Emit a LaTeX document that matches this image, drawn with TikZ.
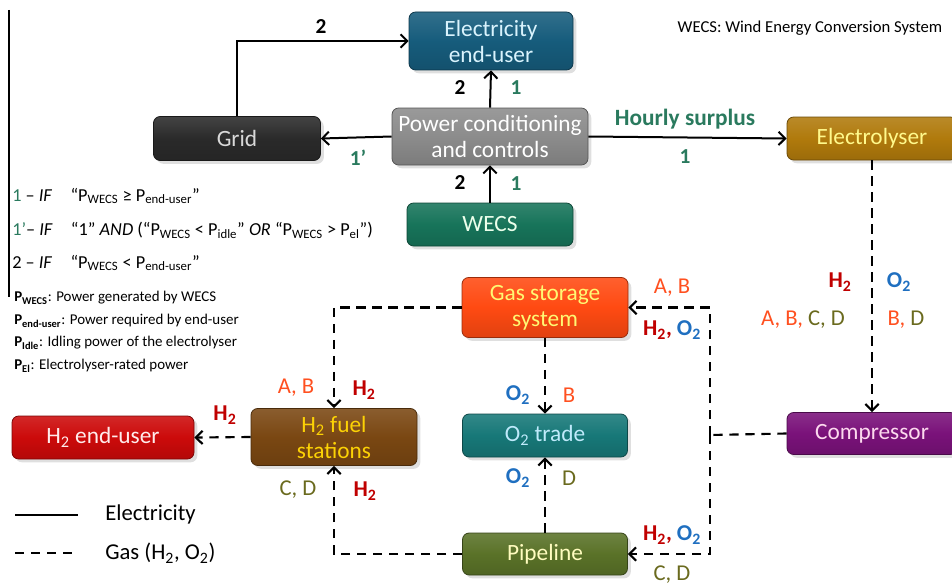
\documentclass[tikz,border=0pt]{standalone}
\usepackage{fontspec}
\setmainfont{Carlito}
\usepackage{tikz}
\usetikzlibrary{arrows.meta,shadows}

\definecolor{cEuser}{HTML}{165C7C}
\definecolor{cPcc}{HTML}{8C8C8C}
\definecolor{cGrid}{HTML}{2A2A2A}
\definecolor{cWecs}{HTML}{17745A}
\definecolor{cElectro}{HTML}{B07A0C}
\definecolor{cGas}{HTML}{FF4A12}
\definecolor{cFuel}{HTML}{7A4712}
\definecolor{cHuser}{HTML}{CC0A0A}
\definecolor{cOtrade}{HTML}{177878}
\definecolor{cComp}{HTML}{7A127A}
\definecolor{cPipe}{HTML}{5A7228}
\definecolor{cGreen}{HTML}{2A7A5E}
\definecolor{cRed}{HTML}{C00000}
\definecolor{cBlue}{HTML}{1F6FC0}
\definecolor{cOrange}{HTML}{FF5020}
\definecolor{cOlive}{HTML}{6A6A1E}

\newcommand{\hyd}{\textcolor{cRed}{\textbf{H\textsubscript{2}}}}
\newcommand{\oxy}{\textcolor{cBlue}{\textbf{O\textsubscript{2}}}}

\begin{document}
\begin{tikzpicture}[x=0.75pt,y=-0.75pt,
  box/.style={rounded corners=5pt, draw=#1!60!black, line width=0.6pt,
    top color=#1!88!white, bottom color=#1!88!black, middle color=#1,
    drop shadow={shadow xshift=2.5pt,shadow yshift=-2.5pt,opacity=0.25},
    align=center, inner sep=0pt, font=\fontsize{17.5}{19.5}\selectfont},
  sz/.style 2 args={minimum width=#1*0.75pt, minimum height=#2*0.75pt},
  elink/.style={draw, line width=1.5pt, -{Straight Barb[length=5pt,width=10pt]}},
  glink/.style={draw, line width=1.6pt, dash pattern=on 7pt off 5pt, -{Straight Barb[length=5pt,width=10pt]}},
  lab/.style={font=\fontsize{16}{18}\selectfont\bfseries},
  glab/.style={font=\fontsize{17}{19}\selectfont},
  txt/.style={anchor=west, inner sep=0pt, font=\fontsize{13.7}{15}\selectfont},
  dtxt/.style={anchor=west, inner sep=0pt, font=\fontsize{11.2}{13}\selectfont}]
\useasboundingbox (0,0) rectangle (952,585);

% boxes
\node[box=cEuser, text=cyan!15!white, sz={164}{58}] (euser) at (491,41) {Electricity\\end-user};
\node[box=cPcc, text=white, sz={196}{57}] (pcc) at (490,136.5) {Power conditioning\\and controls};
\node[box=cGrid, text=black!15, sz={167}{44}] (grid) at (237,138.5) {Grid};
\node[box=cWecs, text=white!92!green, sz={166}{43}] (wecs) at (490,224.5) {WECS};
\node[box=cElectro, text=yellow!45!white, sz={170}{43}] (electro) at (872,138.5) {Electrolyser};
\node[box=cGas, text=yellow!55!white, sz={166}{60}] (gas) at (545,307.5) {Gas storage\\system};
\node[box=cFuel, text=yellow!70!orange, sz={166}{57}] (fuel) at (334,437) {H\textsubscript{2} fuel\\stations};
\node[box=cHuser, text=pink!30!white, sz={182}{43}] (huser) at (103,437.5) {H\textsubscript{2} end-user};
\node[box=cOtrade, text=cyan!25!white, sz={165}{43}] (otrade) at (545,435.5) {O\textsubscript{2} trade};
\node[box=cComp, text=magenta!15!white, sz={170}{42}] (comp) at (872,433.5) {Compressor};
\node[box=cPipe, text=yellow!25!white, sz={165}{42}] (pipe) at (545,554) {Pipeline};

% electricity links
\draw[elink] (grid.north) |- (euser.west);
\draw[elink] (pcc.north) -- (euser.south);
\draw[elink] (pcc.west) -- (grid.east);
\draw[elink] (wecs.north) -- (pcc.south);
\draw[elink] (pcc.east) -- (electro.west);

% gas links
\coordinate (jn) at (710,435);
\draw[glink] (electro.south) -- (comp.north);
\draw[glink,-] (comp.west) -- (jn);
\draw[glink] (jn) |- (gas.east);
\draw[glink] (jn) |- (pipe.east);
\draw[glink] (gas.south) -- (otrade.north);
\draw[glink] (pipe.north) -- (otrade.south);
\draw[glink] (gas.west) -| (fuel.north);
\draw[glink] (pipe.west) -| (fuel.south);
\draw[glink] (fuel.west) -- (huser.east);

% link labels
\node[lab] (l2a) at (321,27) {2};
\node[lab] (l2b) at (460,88) {2};
\node[lab,text=cGreen] (l1a) at (516,88) {1};
\node[lab,text=cGreen] (l1p) at (358,158) {1’};
\node[lab] (l2c) at (460,183) {2};
\node[lab,text=cGreen] (l1b) at (516,184) {1};
\node[lab,text=cGreen,font=\fontsize{17.5}{19}\selectfont\bfseries] (lhs) at (685,119) {Hourly surplus};
\node[lab,text=cGreen] (l1c) at (685,157) {1};

\node[glab] (lh2e) at (840,282) {\hyd};
\node[glab] (lo2e) at (899,282) {\oxy};
\node[glab] (labcd) at (803,320) {\textcolor{cOrange}{A, B,} \textcolor{cOlive}{C, D}};
\node[glab] (lbd) at (906,320) {\textcolor{cOrange}{B,} \textcolor{cOlive}{D}};
\node[glab,text=cOrange] (lab1) at (672,288) {A, B};
\node[glab] (lho1) at (672,330) {\hyd\textcolor{cRed}{\textbf{,}} \oxy};
\node[glab] (lho2) at (672,535) {\hyd\textcolor{cRed}{\textbf{,}} \oxy};
\node[glab,text=cOlive] (lcd1) at (672,575) {C, D};
\node[glab] (lo2a) at (518,395) {\oxy};
\node[glab,text=cOrange] (lb) at (569,395) {B};
\node[glab] (lo2b) at (518,478) {\oxy};
\node[glab,text=cOlive] (ld) at (569,478) {D};
\node[glab,text=cOrange] (lab2) at (296,388) {A, B};
\node[glab] (lh2a) at (364,390) {\hyd};
\node[glab,text=cOlive] (lcd2) at (298,490) {C, D};
\node[glab] (lh2b) at (365,491) {\hyd};
\node[glab] (lh2c) at (225,415) {\hyd};

% notes
\node[font=\fontsize{12.5}{15}\selectfont] (wecsnote) at (810,28) {WECS: Wind Energy Conversion System};
\draw[line width=0.8pt] (9,10) -- (9,297);
\node[txt] (cond1) at (12,196) {\textcolor{cGreen}{1} – \textit{IF}\quad “P\textsubscript{WECS} ≥ P\textsubscript{end-user}”};
\node[txt] (cond2) at (12,230) {\textcolor{cGreen}{1’}– \textit{IF}\quad “1” \textit{AND} (“P\textsubscript{WECS} < P\textsubscript{idle}” \textit{OR} “P\textsubscript{WECS} > P\textsubscript{el}”)};
\node[txt] (cond3) at (12,263) {2 – \textit{IF}\quad “P\textsubscript{WECS} < P\textsubscript{end-user}”};
\node[dtxt] (def1) at (14,298) {\textbf{P\textsubscript{WECS}}: Power generated by WECS};
\node[dtxt] (def2) at (14,321) {\textbf{P\textsubscript{end-user}}: Power required by end-user};
\node[dtxt] (def3) at (14,343) {\textbf{P\textsubscript{Idle}}: Idling power of the electrolyser};
\node[dtxt] (def4) at (14,366) {\textbf{P\textsubscript{El}}: Electrolyser-rated power};

% legend
\draw[line width=1.5pt] (15,515) -- (78,515);
\draw[line width=1.6pt, dash pattern=on 7pt off 5pt] (15,553) -- (78,553);
\node[txt, font=\fontsize{17}{19}\selectfont] (legel) at (105,514) {Electricity};
\node[txt, font=\fontsize{17}{19}\selectfont] (leggas) at (105,553) {Gas (H\textsubscript{2}, O\textsubscript{2})};
\end{tikzpicture}
\end{document}
